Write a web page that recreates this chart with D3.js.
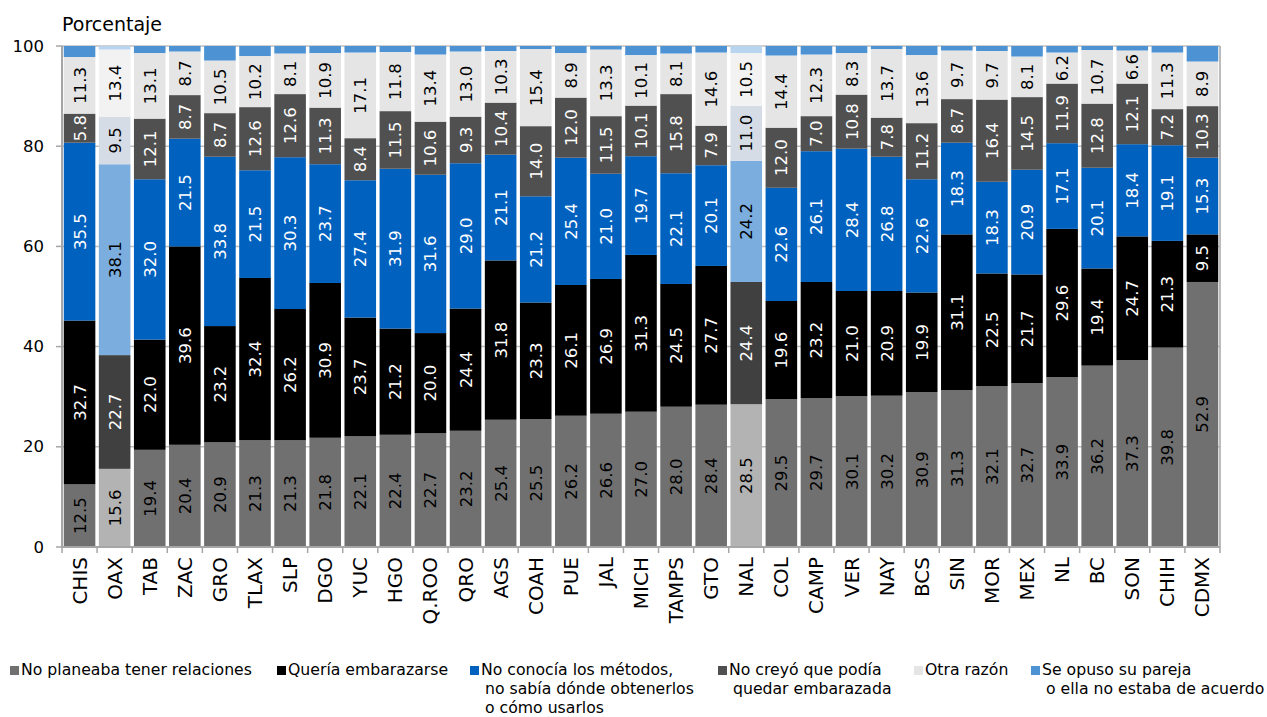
<!DOCTYPE html>
<html>
<head>
<meta charset="utf-8">
<script src="https://cdn.jsdelivr.net/npm/d3@7"></script>
<style>
  html, body { margin: 0; padding: 0; background: #fff; }
  svg { display: block; font-family: "DejaVu Sans", sans-serif; }
</style>
</head>
<body>
<svg id="chart" width="1267" height="717"></svg>
<script>
const categories = ["CHIS","OAX","TAB","ZAC","GRO","TLAX","SLP","DGO","YUC","HGO","Q.ROO","QRO","AGS","COAH","PUE","JAL","MICH","TAMPS","GTO","NAL","COL","CAMP","VER","NAY","BCS","SIN","MOR","MEX","NL","BC","SON","CHIH","CDMX"];
const highlighted = ["OAX","NAL"];

const noPlaneaba = [12.5,15.6,19.4,20.4,20.9,21.3,21.3,21.8,22.1,22.4,22.7,23.2,25.4,25.5,26.2,26.6,27.0,28.0,28.4,28.5,29.5,29.7,30.1,30.2,30.9,31.3,32.1,32.7,33.9,36.2,37.3,39.8,52.9];
const queriaEmbarazarse = [32.7,22.7,22.0,39.6,23.2,32.4,26.2,30.9,23.7,21.2,20.0,24.4,31.8,23.3,26.1,26.9,31.3,24.5,27.7,24.4,19.6,23.2,21.0,20.9,19.9,31.1,22.5,21.7,29.6,19.4,24.7,21.3,9.5];
const noConocia = [35.5,38.1,32.0,21.5,33.8,21.5,30.3,23.7,27.4,31.9,31.6,29.0,21.1,21.2,25.4,21.0,19.7,22.1,20.1,24.2,22.6,26.1,28.4,26.8,22.6,18.3,18.3,20.9,17.1,20.1,18.4,19.1,15.3];
const noCreyo = [5.8,9.5,12.1,8.7,8.7,12.6,12.6,11.3,8.4,11.5,10.6,9.3,10.4,14.0,12.0,11.5,10.1,15.8,7.9,11.0,12.0,7.0,10.8,7.8,11.2,8.7,16.4,14.5,11.9,12.8,12.1,7.2,10.3];
const otraRazon = [11.3,13.4,13.1,8.7,10.5,10.2,8.1,10.9,17.1,11.8,13.4,13.0,10.3,15.4,8.9,13.3,10.1,8.1,14.6,10.5,14.4,12.3,8.3,13.7,13.6,9.7,9.7,8.1,6.2,10.7,6.6,11.3,8.9];
const seOpuso = [2.2,0.7,1.4,1.1,2.9,2.0,1.5,1.4,1.3,1.2,1.7,1.1,1.0,0.6,1.4,0.7,1.8,1.5,1.3,1.4,1.9,1.7,1.4,0.6,1.8,0.9,1.0,2.1,1.3,0.8,0.9,1.3,3.1];

const seriesNames = [
  ["No planeaba tener relaciones"],
  ["Quería embarazarse"],
  ["No conocía los métodos,", "no sabía dónde obtenerlos", "o cómo usarlos"],
  ["No creyó que podía", "quedar embarazada"],
  ["Otra razón"],
  ["Se opuso su pareja", "o ella no estaba de acuerdo"]
];
const seriesValues = [noPlaneaba, queriaEmbarazarse, noConocia, noCreyo, otraRazon, seOpuso];
const showLabel = [true, true, true, true, true, false];

const colors = ["#707070", "#000000", "#0061bf", "#505050", "#e5e5e5", "#4d92d2"];
const colorsHi = ["#b3b3b3", "#404040", "#7badde", "#d5dce5", "#f2f2f2", "#b8d4ee"];
const textColors = ["#000", "#fff", "#fff", "#fff", "#000", "#000"];
const textColorsHi = ["#000", "#fff", "#000", "#000", "#000", "#000"];

const yTicks = [0, 20, 40, 60, 80, 100];

const svg = d3.select("#chart");
const pLeft = 62, pRight = 1220, pTop = 46, pBottom = 547;

const x = d3.scaleBand().domain(categories).range([pLeft, pRight]).paddingInner(0.1).paddingOuter(0.05);
const y = d3.scaleLinear().domain([0, 100]).range([pBottom, pTop]);

// gridlines
svg.append("g").selectAll("line").data(yTicks.filter(d => d > 0)).join("line")
  .attr("x1", pLeft).attr("x2", pRight)
  .attr("y1", d => y(d)).attr("y2", d => y(d))
  .attr("stroke", "#bfbfbf").attr("stroke-width", 1.5);

// stacked data
const table = categories.map((c, i) => {
  const row = { cat: c };
  seriesValues.forEach((s, k) => row["s" + k] = s[i]);
  return row;
});
const keys = seriesValues.map((_, k) => "s" + k);
const stacked = d3.stack().keys(keys)(table);

const gBars = svg.append("g");
stacked.forEach((layer, k) => {
  gBars.append("g").selectAll("rect").data(layer).join("rect")
    .attr("x", d => x(d.data.cat))
    .attr("width", x.bandwidth())
    .attr("y", d => y(d[1]))
    .attr("height", d => y(d[0]) - y(d[1]))
    .attr("fill", d => highlighted.includes(d.data.cat) ? colorsHi[k] : colors[k]);
});

// labels
stacked.forEach((layer, k) => {
  if (!showLabel[k]) return;
  gBars.append("g").selectAll("text").data(layer).join("text")
    .attr("transform", d => `translate(${x(d.data.cat) + x.bandwidth() / 2 + 0.5},${(y(d[0]) + y(d[1])) / 2}) rotate(-90)`)
    .attr("text-anchor", "middle")
    .attr("dominant-baseline", "central")
    .attr("font-size", 16.5)
    .attr("fill", d => highlighted.includes(d.data.cat) ? textColorsHi[k] : textColors[k])
    .text(d => (d[1] - d[0]).toFixed(1));
});

// axes frame
const axisColor = "#a6a6a6";
svg.append("line").attr("x1", pLeft).attr("x2", pLeft).attr("y1", pTop).attr("y2", pBottom + 1)
  .attr("stroke", axisColor).attr("stroke-width", 2);
svg.append("line").attr("x1", pRight).attr("x2", pRight).attr("y1", pTop).attr("y2", pBottom)
  .attr("stroke", axisColor).attr("stroke-width", 1.5);
svg.append("line").attr("x1", pLeft).attr("x2", pRight).attr("y1", pBottom).attr("y2", pBottom)
  .attr("stroke", axisColor).attr("stroke-width", 2);

// y ticks
const yAxis = svg.append("g");
yAxis.selectAll("line").data(yTicks).join("line")
  .attr("x1", pLeft - 6).attr("x2", pLeft).attr("y1", d => y(d)).attr("y2", d => y(d))
  .attr("stroke", axisColor).attr("stroke-width", 1.5);
yAxis.selectAll("text").data(yTicks).join("text")
  .attr("x", 44).attr("y", d => y(d))
  .attr("text-anchor", "end").attr("dominant-baseline", "central")
  .attr("font-size", 16.5).attr("fill", "#000")
  .text(d => d);

svg.append("text").attr("x", 62).attr("y", 31).attr("font-size", 19)
  .attr("fill", "#000").text("Porcentaje");

// x ticks at category boundaries
const step = x.step();
const boundaries = categories.map(c => x(c) - (step - x.bandwidth()) / 2).concat([pRight]);
svg.append("g").selectAll("line").data(boundaries).join("line")
  .attr("x1", d => d).attr("x2", d => d).attr("y1", pBottom).attr("y2", pBottom + 6)
  .attr("stroke", axisColor).attr("stroke-width", 1.5);

// x labels
svg.append("g").selectAll("text").data(categories).join("text")
  .attr("transform", c => `translate(${x(c) + x.bandwidth() / 2},557) rotate(-90)`)
  .attr("text-anchor", "end").attr("dominant-baseline", "central")
  .attr("font-size", 20).attr("fill", "#000")
  .text(c => c);

// legend
const legendX = [10, 277, 470, 718, 914, 1031];
const legend = svg.append("g");
seriesNames.forEach((lines, k) => {
  const g = legend.append("g");
  g.append("rect").attr("x", legendX[k]).attr("y", 666).attr("width", 9).attr("height", 9).attr("fill", colors[k]);
  lines.forEach((ln, j) => {
    g.append("text").attr("x", legendX[k] + (j === 0 ? 11 : 15)).attr("y", 675 + j * 19)
      .attr("font-size", 15.7).attr("fill", "#000")
      .text(ln);
  });
});
</script>
</body>
</html>
